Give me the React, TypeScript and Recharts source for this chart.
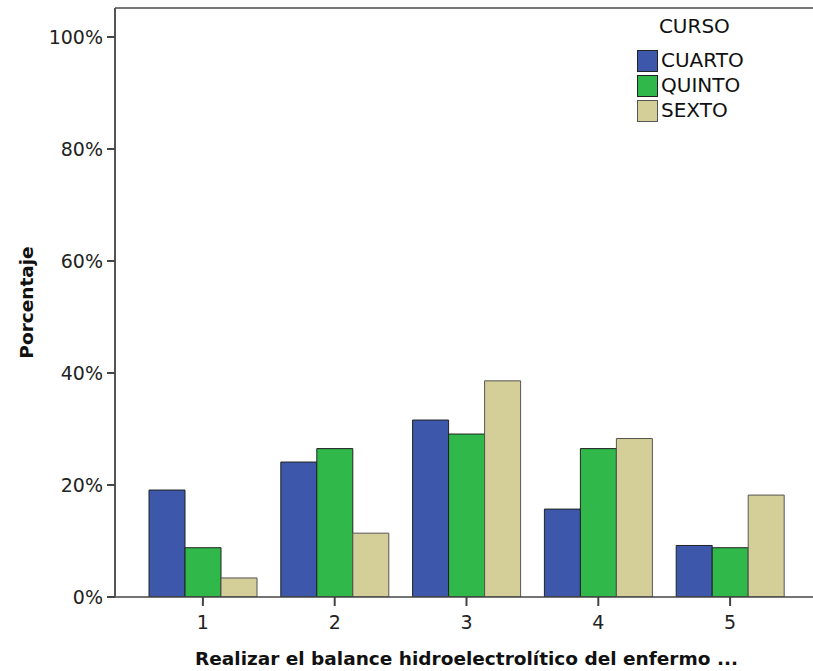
import { BarChart, Bar, XAxis, YAxis, Legend, ReferenceLine } from 'recharts';

const categories = ['1', '2', '3', '4', '5'];
const cuarto = [19.1, 24.1, 31.6, 15.7, 9.2];
const quinto = [8.8, 26.5, 29.1, 26.5, 8.8];
const sexto = [3.4, 11.4, 38.6, 28.3, 18.2];
const yTicks = [0, 20, 40, 60, 80, 100];

const seriesNames = ['CUARTO', 'QUINTO', 'SEXTO'];
const fills = ['#3d58aa', '#30b84a', '#d4ce98'];
const strokes = ['#222', '#222', '#555'];

const data = categories.map((name, i) => ({
  name,
  CUARTO: cuarto[i],
  QUINTO: quinto[i],
  SEXTO: sexto[i],
}));

const font = '"DejaVu Sans", sans-serif';
const yMax = 105.18;

function CursoLegend() {
  return (
    <div style={{ fontFamily: font, fontSize: 20, color: '#111', lineHeight: '25px' }}>
      <div style={{ textAlign: 'center', paddingLeft: 8, marginBottom: 9 }}>CURSO</div>
      {seriesNames.map((s, i) => (
        <div key={s} style={{ display: 'flex', alignItems: 'center', height: 25 }}>
          <span
            style={{
              display: 'inline-block',
              width: 19,
              height: 20,
              background: fills[i],
              border: `1px solid ${strokes[i]}`,
              marginRight: 3,
            }}
          />
          <span>{s}</span>
        </div>
      ))}
    </div>
  );
}

function YLabel(props: any) {
  const vb = props.viewBox || { x: 0, y: 8, width: 115, height: 589 };
  const cx = 26;
  const cy = vb.y + vb.height / 2;
  return (
    <text
      x={cx}
      y={cy}
      transform={`rotate(-90, ${cx}, ${cy})`}
      textAnchor="middle"
      dominantBaseline="central"
      style={{ fontFamily: font, fontSize: 18.5, fontWeight: 'bold', fill: '#111' }}
    >
      Porcentaje
    </text>
  );
}

export default function App() {
  return (
    <div
      style={{
        position: 'fixed',
        left: 0,
        top: 0,
        width: 813,
        height: 671,
        overflow: 'hidden',
        background: '#fff',
      }}
    >
      <BarChart
        width={830}
        height={671}
        data={data}
        margin={{ top: 8, right: 12, left: 0, bottom: 0 }}
        barCategoryGap={12}
        barGap={0}
      >
        <XAxis
          dataKey="name"
          height={74}
          padding={{ left: 22, right: 22 }}
          tickSize={9}
          tickMargin={10}
          axisLine={{ stroke: '#444', strokeWidth: 1.5 }}
          tickLine={{ stroke: '#444', strokeWidth: 2 }}
          tick={{ fontFamily: font, fontSize: 19, fill: '#222' }}
          label={{
            value: 'Realizar el balance hidroelectrolítico del enfermo ...',
            position: 'insideBottom',
            offset: 6,
            style: { fontFamily: font, fontSize: 18.5, fontWeight: 'bold', fill: '#111' },
          }}
        />
        <YAxis
          width={115}
          domain={[0, yMax]}
          ticks={yTicks}
          allowDataOverflow
          tickFormatter={(v: number) => `${v}%`}
          tickSize={8}
          tickMargin={4}
          axisLine={{ stroke: '#555', strokeWidth: 2 }}
          tickLine={{ stroke: '#444', strokeWidth: 2 }}
          tick={{ fontFamily: font, fontSize: 19, fill: '#222' }}
          label={<YLabel />}
        />
        <ReferenceLine y={yMax} stroke="#777" strokeWidth={2} />
        <Legend
          layout="horizontal"
          align="center"
          verticalAlign="middle"
          content={<CursoLegend />}
          wrapperStyle={{ left: 637, top: 14, width: 'auto' }}
        />
        {seriesNames.map((s, i) => (
          <Bar
            key={s}
            dataKey={s}
            fill={fills[i]}
            stroke={strokes[i]}
            strokeWidth={1}
            isAnimationActive={false}
          />
        ))}
      </BarChart>
    </div>
  );
}
